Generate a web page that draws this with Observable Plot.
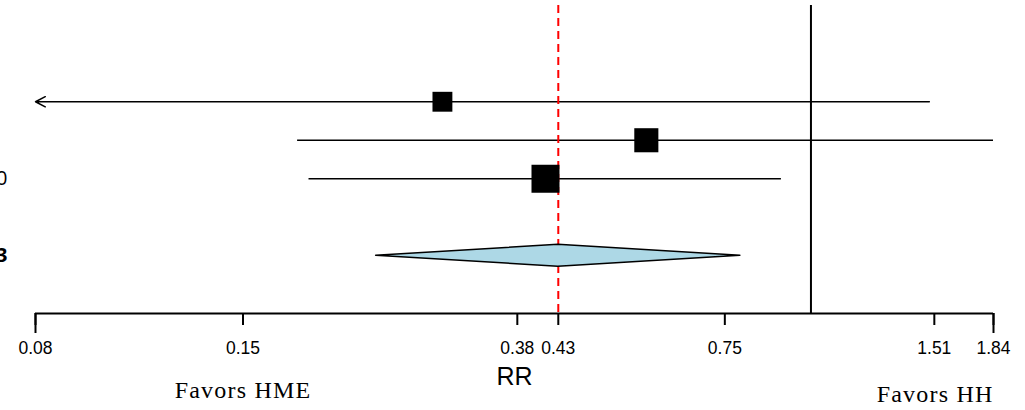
<!DOCTYPE html>
<html>
<head>
<meta charset="utf-8">
<script src="https://cdn.jsdelivr.net/npm/d3@7"></script>
<script src="https://cdn.jsdelivr.net/npm/@observablehq/plot@0.6"></script>
<style>
  html, body { margin: 0; padding: 0; background: #fff; }
  #chart svg { display: block; }
</style>
</head>
<body>
<div id="chart"></div>
<script>
// ---- Data ----
const rows = [5, 4, 3];                     // study row positions
const estimates = [0.292, 0.577, 0.412];    // RR point estimates
const lowers = [0.05, 0.180, 0.187];        // lower CI (first one runs off the axis)
const uppers = [1.485, 1.84, 0.906];        // upper CI
const weights = [0.71, 0.86, 1.0];          // relative study weights (square size)

const summaryRow = 1;
const summaryEst = 0.43;
const summaryLower = 0.234;
const summaryUpper = 0.790;

const refValue = 1;

const tickValues = [0.075, 0.15, 0.375, 0.43, 0.75, 1.51, 1.84];
const tickLabels = ["0.08", "0.15", "0.38", "0.43", "0.75", "1.51", "1.84"];

const leftTexts = ["0"];
const leftRows = [3];
const leftBoldTexts = ["3"];
const leftBoldRows = [1];

const axisTitle = "RR";
const sideTexts = ["Favors HME", "Favors HH"];
const sideAt = [0.15, 1.84];

// ---- Build tables ----
const xMin = tickValues[0], xMax = tickValues[tickValues.length - 1];
const studies = rows.map((r, i) => ({row: r, est: estimates[i], lo: lowers[i], hi: uppers[i], w: weights[i]}));
const inside = studies.filter(d => d.lo >= xMin);
const clipped = studies.filter(d => d.lo < xMin).map(d => ({...d, loC: xMin}));

const rowPx = 38.5;
const h = 11 / rowPx;
const diamond = [
  {x: summaryLower, y1: summaryRow, y2: summaryRow},
  {x: summaryEst, y1: summaryRow - h, y2: summaryRow + h},
  {x: summaryUpper, y1: summaryRow, y2: summaryRow}
];

const sides = sideTexts.map((t, i) => ({t, x: sideAt[i]}));
const serif = "'Liberation Serif', 'Times New Roman', serif";

const chart = Plot.plot({
  width: 1025,
  height: 410,
  marginLeft: 35,
  marginRight: 32,
  marginTop: 5,
  marginBottom: 97,
  style: {fontFamily: "'Liberation Sans', Arial, sans-serif", fontSize: "17px", background: "white", overflow: "hidden"},
  x: {type: "log", domain: [xMin, xMax], axis: null},
  y: {domain: [-0.5, 7.5], axis: null},
  r: {type: "linear", domain: [0, 1], range: [0, 28 / Math.sqrt(Math.PI)]},
  marks: [
    Plot.ruleX([refValue], {stroke: "black", strokeWidth: 2}),
    Plot.ruleY(inside, {y: "row", x1: "lo", x2: "hi", stroke: "black", strokeWidth: 1.5}),
    Plot.arrow(clipped, {x1: "hi", x2: "loC", y1: "row", y2: "row", stroke: "black", strokeWidth: 1.5, headLength: 11, headAngle: 55}),
    Plot.ruleX([summaryEst], {stroke: "#ff0000", strokeWidth: 2, strokeDasharray: "8,5"}),
    Plot.dot(studies, {x: "est", y: "row", r: "w", symbol: "square", fill: "black", stroke: "none"}),
    Plot.areaY(diamond, {x: "x", y1: "y1", y2: "y2", fill: "#add8e6", stroke: "black", strokeWidth: 1.5, curve: "linear"}),
    Plot.ruleY([-0.5], {x1: xMin, x2: xMax, stroke: "black", strokeWidth: 2}),
    Plot.axisX({ticks: [xMin, xMax], tickSize: 20, strokeWidth: 2, tickFormat: () => "", label: null}),
    Plot.axisX({
      ticks: tickValues,
      tickFormat: d => tickLabels[tickValues.indexOf(d)],
      tickSize: 12,
      tickPadding: 16,
      strokeWidth: 2,
      fontSize: 18,
      fill: "black",
      label: null
    }),
    Plot.text([axisTitle], {frameAnchor: "bottom", dy: 63, lineAnchor: "middle", fontSize: 25, fill: "black"}),
    Plot.text(sides.slice(0, 1), {x: "x", text: "t", frameAnchor: "bottom", dy: 77, lineAnchor: "middle", fontSize: 24, fontFamily: serif, textAnchor: "middle", fill: "black"}),
    Plot.text(sides.slice(1), {x: "x", text: "t", frameAnchor: "bottom", dy: 81, lineAnchor: "middle", fontSize: 24, fontFamily: serif, textAnchor: "end", fill: "black"}),
    Plot.text(leftTexts, {y: leftRows, frameAnchor: "left", dx: -28, textAnchor: "end", fontSize: 20, fontFamily: "'Open Sans', sans-serif", fill: "black"}),
    Plot.text(leftBoldTexts, {y: leftBoldRows, frameAnchor: "left", dx: -28, textAnchor: "end", fontSize: 20, fontWeight: "bold", fontFamily: "'Open Sans', sans-serif", fill: "black"})
  ]
});

chart.querySelectorAll("text").forEach(t => {
  if (sideTexts.includes(t.textContent)) t.style.letterSpacing = "1.2px";
  if (tickLabels.includes(t.textContent)) t.style.fontSize = "17.5px";
});

document.getElementById("chart").appendChild(chart);
</script>
</body>
</html>
